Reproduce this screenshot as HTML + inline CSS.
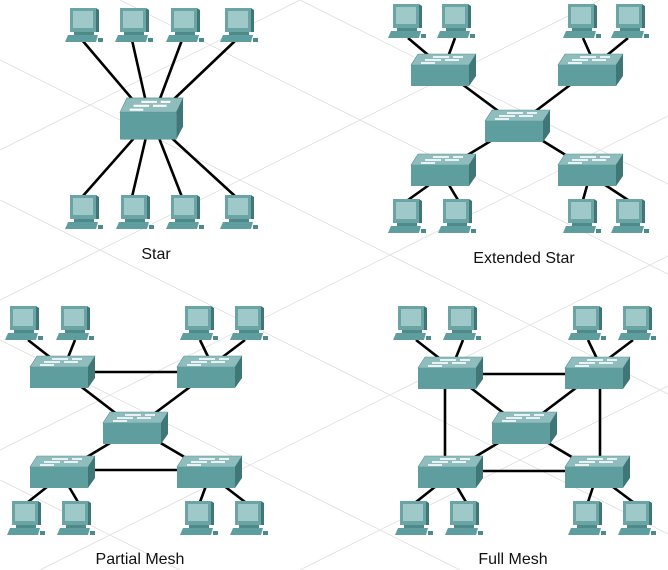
<!DOCTYPE html>
<html><head><meta charset="utf-8"><style>
html,body{margin:0;padding:0;background:#fff;}
svg{display:block;}
text{font-family:"Liberation Sans",Arial,sans-serif;font-size:16px;fill:#111;}
</style></head><body>
<svg width="668" height="570" viewBox="0 0 668 570" xmlns="http://www.w3.org/2000/svg">
<defs>
<g id="sw">
<polygon points="7,0 65,0 58,11 0,11" fill="#8fbdbd" stroke="#5c8f8f" stroke-width="0.6"/>
<rect x="0" y="11" width="58" height="21" fill="#5f9e9e"/>
<polygon points="58,11 65,0 65,22 58,32" fill="#3f7676"/>
<g stroke="#fff" stroke-width="1.6">
<line x1="22" y1="3" x2="38" y2="3"/><line x1="42" y1="3" x2="52" y2="3"/>
<line x1="14" y1="6" x2="30" y2="6"/><line x1="34" y1="6" x2="48" y2="6"/>
<line x1="10" y1="9" x2="24" y2="9"/>
</g>
</g>
<g id="pc">
<rect x="5" y="0" width="26" height="24" fill="#6ba4a4"/>
<rect x="8" y="3" width="20" height="17" fill="#9fc8c8"/>
<polygon points="31,0 34,2 34,24 31,24" fill="#3f7676"/>
<rect x="9" y="24" width="20" height="3" fill="#4f8a8a"/>
<polygon points="3,27 33,27 31,34 0,34" fill="#5f9e9e"/>
<rect x="33" y="30" width="5" height="4" fill="#4f8a8a"/>
</g>
</defs>
<g stroke="#e3e3e3" stroke-width="1">
<line x1="0" y1="60" x2="668" y2="394"/><line x1="0" y1="200" x2="668" y2="534"/>
<line x1="0" y1="340" x2="460" y2="570"/><line x1="120" y1="0" x2="668" y2="274"/>
<line x1="300" y1="0" x2="668" y2="184"/><line x1="0" y1="480" x2="180" y2="570"/>
<line x1="0" y1="300" x2="600" y2="0"/><line x1="0" y1="450" x2="668" y2="116"/>
<line x1="40" y1="570" x2="668" y2="256"/><line x1="0" y1="150" x2="300" y2="0"/>
<line x1="300" y1="570" x2="668" y2="386"/>
</g>
<g stroke="#000" stroke-width="2.6">
<!-- star -->
<line x1="82" y1="40" x2="150" y2="120"/><line x1="132" y1="40" x2="150" y2="120"/>
<line x1="182" y1="40" x2="152" y2="120"/><line x1="236" y1="40" x2="152" y2="120"/>
<line x1="82" y1="197" x2="150" y2="120"/><line x1="132" y1="197" x2="150" y2="120"/>
<line x1="182" y1="197" x2="152" y2="120"/><line x1="236" y1="197" x2="152" y2="120"/>
<!-- extended -->
<line x1="408" y1="38" x2="440" y2="65"/><line x1="455" y1="38" x2="445" y2="65"/>
<line x1="583" y1="38" x2="595" y2="65"/><line x1="628" y1="38" x2="595" y2="65"/>
<line x1="443" y1="70" x2="517" y2="125"/><line x1="590" y1="70" x2="517" y2="125"/>
<line x1="443" y1="170" x2="517" y2="125"/><line x1="590" y1="170" x2="517" y2="125"/>
<line x1="443" y1="175" x2="408" y2="200"/><line x1="443" y1="175" x2="458" y2="200"/>
<line x1="590" y1="175" x2="583" y2="200"/><line x1="590" y1="175" x2="628" y2="200"/>
<!-- partial -->
<line x1="28" y1="340" x2="60" y2="365"/><line x1="75" y1="340" x2="65" y2="365"/>
<line x1="200" y1="340" x2="212" y2="365"/><line x1="245" y1="340" x2="212" y2="365"/>
<line x1="62" y1="372" x2="210" y2="372"/><line x1="62" y1="372" x2="135" y2="428"/>
<line x1="210" y1="372" x2="135" y2="428"/><line x1="62" y1="472" x2="135" y2="428"/>
<line x1="210" y1="472" x2="135" y2="428"/><line x1="62" y1="470" x2="210" y2="470"/>
<line x1="62" y1="475" x2="28" y2="502"/><line x1="62" y1="475" x2="78" y2="502"/>
<line x1="210" y1="475" x2="200" y2="502"/><line x1="210" y1="475" x2="245" y2="502"/>
<!-- full -->
<line x1="416" y1="340" x2="448" y2="365"/><line x1="463" y1="340" x2="453" y2="365"/>
<line x1="588" y1="340" x2="600" y2="365"/><line x1="633" y1="340" x2="600" y2="365"/>
<line x1="450" y1="374" x2="597" y2="374"/><line x1="450" y1="372" x2="523" y2="428"/>
<line x1="597" y1="372" x2="523" y2="428"/><line x1="450" y1="472" x2="523" y2="428"/>
<line x1="597" y1="472" x2="523" y2="428"/><line x1="450" y1="471" x2="597" y2="471"/>
<line x1="445" y1="372" x2="445" y2="472"/><line x1="600" y1="372" x2="600" y2="472"/>
<line x1="450" y1="475" x2="416" y2="502"/><line x1="450" y1="475" x2="466" y2="502"/>
<line x1="597" y1="475" x2="588" y2="502"/><line x1="597" y1="475" x2="633" y2="502"/>
</g>
<!-- star nodes -->
<use href="#pc" x="65" y="8"/><use href="#pc" x="115" y="8"/><use href="#pc" x="166" y="8"/><use href="#pc" x="220" y="8"/>
<g transform="translate(120,98) scale(0.97,1.3)"><use href="#sw"/></g>
<use href="#pc" x="65" y="195"/><use href="#pc" x="116" y="195"/><use href="#pc" x="166" y="195"/><use href="#pc" x="220" y="195"/>
<text x="156" y="259" text-anchor="middle">Star</text>
<!-- extended -->
<use href="#pc" x="388" y="4"/><use href="#pc" x="437" y="4"/><use href="#pc" x="563" y="4"/><use href="#pc" x="611" y="4"/>
<use href="#sw" x="411" y="54"/><use href="#sw" x="558" y="54"/><use href="#sw" x="485" y="110"/>
<use href="#sw" x="411" y="154"/><use href="#sw" x="558" y="154"/>
<use href="#pc" x="388" y="199"/><use href="#pc" x="438" y="199"/><use href="#pc" x="563" y="199"/><use href="#pc" x="611" y="199"/>
<text x="524" y="263" text-anchor="middle">Extended Star</text>
<!-- partial -->
<use href="#pc" x="5" y="306"/><use href="#pc" x="56" y="306"/><use href="#pc" x="180" y="306"/><use href="#pc" x="230" y="306"/>
<use href="#sw" x="30" y="356"/><use href="#sw" x="177" y="356"/><use href="#sw" x="103" y="412"/>
<use href="#sw" x="30" y="456"/><use href="#sw" x="177" y="456"/>
<use href="#pc" x="7" y="501"/><use href="#pc" x="57" y="501"/><use href="#pc" x="180" y="501"/><use href="#pc" x="230" y="501"/>
<text x="140" y="564" text-anchor="middle">Partial Mesh</text>
<!-- full -->
<use href="#pc" x="393" y="306"/><use href="#pc" x="443" y="306"/><use href="#pc" x="568" y="306"/><use href="#pc" x="618" y="306"/>
<use href="#sw" x="418" y="357"/><use href="#sw" x="565" y="357"/><use href="#sw" x="492" y="412"/>
<use href="#sw" x="418" y="456"/><use href="#sw" x="565" y="456"/>
<use href="#pc" x="395" y="501"/><use href="#pc" x="445" y="501"/><use href="#pc" x="568" y="501"/><use href="#pc" x="618" y="501"/>
<text x="513" y="564" text-anchor="middle">Full Mesh</text>
</svg>
</body></html>
